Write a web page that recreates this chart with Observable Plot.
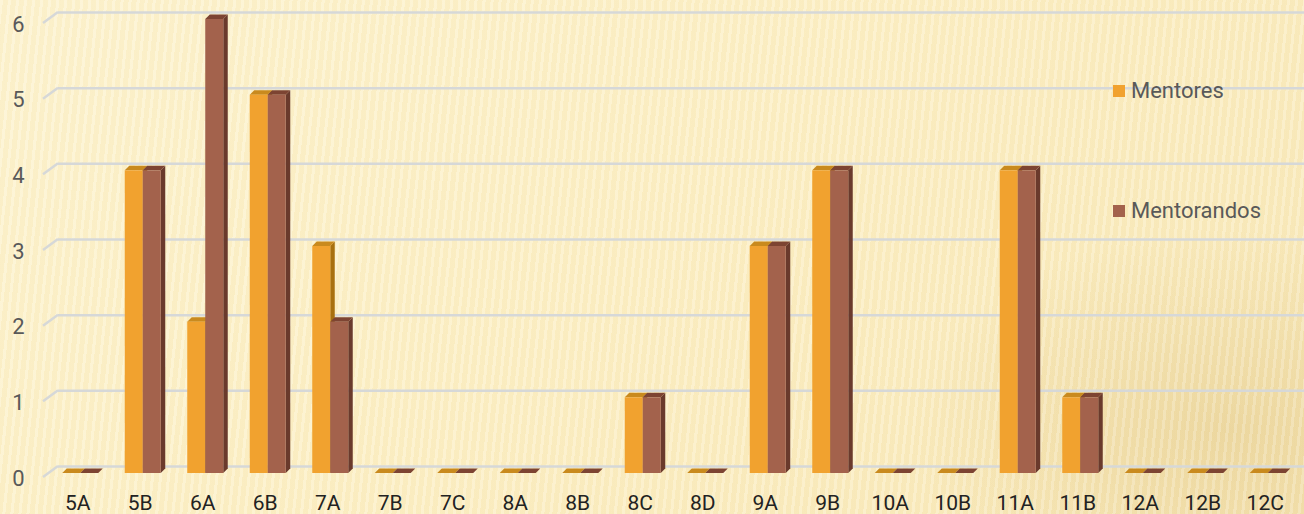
<!DOCTYPE html>
<html>
<head>
<meta charset="utf-8">
<script src="https://cdn.jsdelivr.net/npm/d3@7"></script>
<script src="https://cdn.jsdelivr.net/npm/@observablehq/plot@0.6"></script>
<style>
  html, body { margin: 0; padding: 0; }
  body {
    width: 1304px; height: 514px; overflow: hidden; position: relative;
    font-family: Roboto, "Liberation Sans", sans-serif;
    background:
      repeating-linear-gradient(96deg, rgba(255,255,255,0.20) 0px, rgba(255,255,255,0.20) 3px, rgba(220,190,120,0.06) 3px, rgba(220,190,120,0.06) 8px),
      radial-gradient(ellipse 320px 200px at 1230px 430px, rgba(215,185,115,0.35), rgba(215,185,115,0) 100%),
      linear-gradient(135deg, #fdf3cf 0%, #fcefc4 50%, #f8e8b8 100%);
  }
  #chart { position: absolute; left: 0; top: 0; }
  .legend { position: absolute; left: 1113px; font-size: 22px; color: #595959; line-height: 24px; display: flex; align-items: center; }
  .legend span.sw { display: inline-block; width: 12px; height: 12px; margin-right: 6px; }
</style>
</head>
<body>
<div id="chart"></div>
<div id="legend"></div>
<script>
// ---- data ----
const categories = ["5A","5B","6A","6B","7A","7B","7C","8A","8B","8C","8D","9A","9B","10A","10B","11A","11B","12A","12B","12C"];
const mentores    = [0,4,2,5,3,0,0,0,0,1,0,3,4,0,0,4,1,0,0,0];
const mentorandos = [0,4,6,5,2,0,0,0,0,1,0,3,4,0,0,4,1,0,0,0];
const yTicks = [0,1,2,3,4,5,6];
const seriesNames = ["Mentores","Mentorandos"];

// ---- styles ----
const colors = {
  Mentores:    {front: "#f1a22f", top: "#c98a1e", side: "#a8700f"},
  Mentorandos: {front: "#a3624c", top: "#7d4432", side: "#6a3a2c"}
};
const barW = 18, D = 4.5;
const insets = {Mentores: 16.25, Mentorandos: 34.25};

function depthFaces(values, name) {
  return (index, scales) => {
    const g = d3.create("svg:g");
    const c = colors[name];
    categories.forEach((cat, i) => {
      const x0 = scales.x(cat) + insets[name], x1 = x0 + barW;
      const yt = scales.y(values[i]), yb = scales.y(0);
      g.append("path")
        .attr("d", `M${x1},${yt}L${x1 + D},${yt - D}L${x1 + D},${yb - D}L${x1},${yb}Z`)
        .attr("fill", c.side);
      g.append("path")
        .attr("d", `M${x0},${yt}L${x0 + D},${yt - D}L${x1 + D},${yt - D}L${x1},${yt}Z`)
        .attr("fill", c.top);
    });
    return g.node();
  };
}

function gridDiagonals(index, scales, values, dims) {
  const g = d3.create("svg:g");
  yTicks.forEach(v => {
    const y = scales.y(v);
    g.append("path")
      .attr("d", `M${dims.marginLeft - 3},${y + 4}L${dims.marginLeft + 12},${y - 7}`)
      .attr("stroke", "#d6d8d8").attr("stroke-width", 2.5).attr("fill", "none");
  });
  return g.node();
}

const frontBar = (values, name) => Plot.barY(categories, {
  x: d => d,
  y: (d, i) => values[i],
  fill: colors[name].front,
  insetLeft: insets[name],
  insetRight: 62.5 - insets[name] - barW
});

const chart = Plot.plot({
  width: 1304,
  height: 514,
  marginLeft: 46,
  marginRight: 8,
  marginTop: 19,
  marginBottom: 41,
  style: {background: "transparent", fontFamily: "Roboto, 'Liberation Sans', sans-serif"},
  x: {type: "band", domain: categories, padding: 0, round: false},
  y: {domain: [0, 6]},
  marks: [
    Plot.ruleY(yTicks, {stroke: "#d6d8d8", strokeWidth: 2.5, dy: -7, insetLeft: 12, insetRight: -8}),
    gridDiagonals,
    Plot.axisY({ticks: yTicks, tickFormat: "d", tickSize: 0, tickPadding: 22, fontSize: 22, fill: "#595959", dy: 5, label: null}),
    Plot.axisX({tickSize: 0, tickPadding: 22, fontSize: 21, fill: "#222", label: null}),
    depthFaces(mentores, "Mentores"),
    frontBar(mentores, "Mentores"),
    depthFaces(mentorandos, "Mentorandos"),
    frontBar(mentorandos, "Mentorandos")
  ]
});
document.getElementById("chart").appendChild(chart);

// legend
const legendTops = [79, 199];
const lg = document.getElementById("legend");
seriesNames.forEach((n, i) => {
  const div = document.createElement("div");
  div.className = "legend";
  div.style.top = legendTops[i] + "px";
  div.innerHTML = `<span class="sw" style="background:${colors[n].front}"></span><span>${n}</span>`;
  lg.appendChild(div);
});
</script>
</body>
</html>
